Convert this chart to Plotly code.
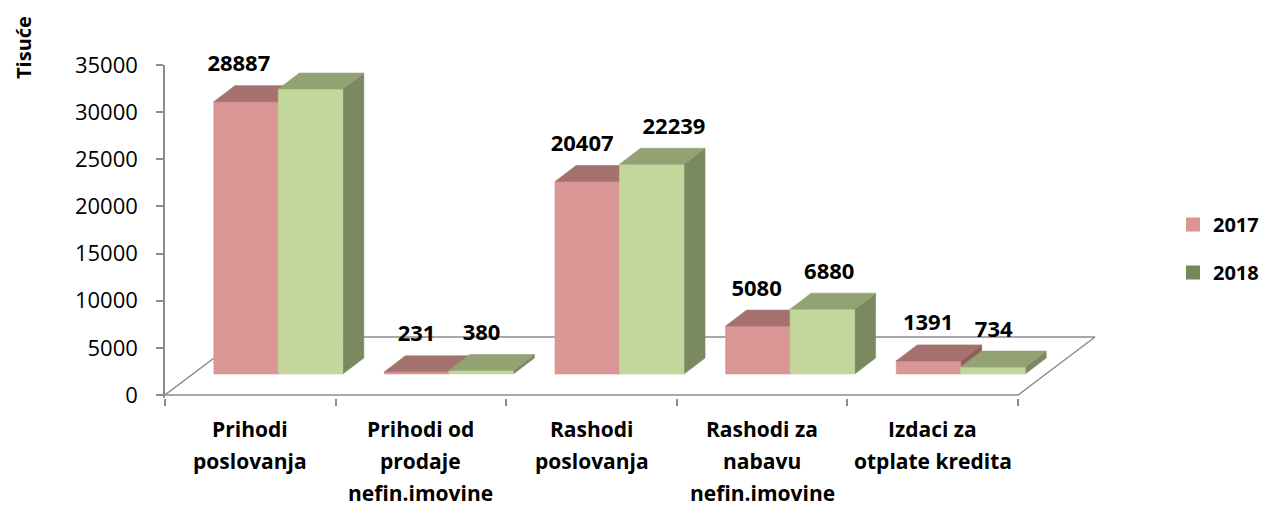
import plotly.graph_objects as go

# ---------------- data ----------------
categories = [
    "Prihodi<br>poslovanja",
    "Prihodi od<br>prodaje<br>nefin.imovine",
    "Rashodi<br>poslovanja",
    "Rashodi za<br>nabavu<br>nefin.imovine",
    "Izdaci za<br>otplate kredita",
]
series_names = ["2017", "2018"]
values_2017 = [28887, 231, 20407, 5080, 1391]
values_2018 = [30223, 380, 22239, 6880, 734]
y_tick_values = [0, 5000, 10000, 15000, 20000, 25000, 30000, 35000]
y_axis_title = "Tisuće"

# ---------------- styling / geometry ----------------
FONT = "'Open Sans', 'Liberation Sans', Arial, sans-serif"
PAGE_OFFSET = 8                      # default body margin of the html page
W, H = 1270 - PAGE_OFFSET, 506 - PAGE_OFFSET
PLOT_LEFT, PLOT_RIGHT, PLOT_TOP, PLOT_BOTTOM = 165, 1110, 65, 398   # in window pixels
ML = PLOT_LEFT - PAGE_OFFSET
MT = PLOT_TOP - PAGE_OFFSET
MR = W - (PLOT_RIGHT - PAGE_OFFSET)
MB = H - (PLOT_BOTTOM - PAGE_OFFSET)
PX_PER_CAT = 170.6
PX_PER_UNIT = 330 / 35000.0


def ux(p):
    return p / PX_PER_CAT


def uy(p):
    return p / PX_PER_UNIT


plot_w = PLOT_RIGHT - PLOT_LEFT
plot_h = PLOT_BOTTOM - PLOT_TOP
x_range = [-0.5, -0.5 + plot_w / PX_PER_CAT]
y_range = [35000 - plot_h / PX_PER_UNIT, 35000]


def paper_x(px):
    return (px - PLOT_LEFT) / plot_w


def paper_y(py):
    return (PLOT_BOTTOM - py) / plot_h


BAR_W = ux(64.5)
BASE_DX, BASE_DY = ux(28), uy(21)      # bars stand in the middle of the floor depth
TOP_DX, TOP_DY = ux(21), uy(16)        # depth of each bar
FLOOR_DX, FLOOR_DY = ux(77), uy(58)

colors = {
    "2017": dict(front="#D99694", top="#A5716F", side="#8F5E5C", legend="#D99694"),
    "2018": dict(front="#C3D69B", top="#93A273", side="#7B8961", legend="#77875A"),
}
AXIS_GRAY = "#8C8C8C"

fig = go.Figure()

# floor outline
n = len(categories)
fx0, fx1 = -0.5, n - 0.5
fig.add_trace(go.Scatter(
    x=[fx0 + FLOOR_DX, fx1 + FLOOR_DX, fx1, fx0],
    y=[FLOOR_DY, FLOOR_DY, 0, 0],
    mode="lines", line=dict(color=AXIS_GRAY, width=1.5),
    hoverinfo="skip", showlegend=False,
))
fig.add_trace(go.Scatter(
    x=[fx0, fx0 + FLOOR_DX], y=[0, FLOOR_DY],
    mode="lines", line=dict(color=AXIS_GRAY, width=1.5),
    hoverinfo="skip", showlegend=False,
))


def poly(xs, ys, color):
    fig.add_trace(go.Scatter(
        x=xs + [xs[0]], y=ys + [ys[0]], mode="lines", fill="toself",
        fillcolor=color, line=dict(color=color, width=0.6),
        hoverinfo="skip", showlegend=False,
    ))


label_x, label_y, label_t = [], [], []
series_values = [values_2017, values_2018]
for i in range(n):
    for s, name in enumerate(series_names):
        v = series_values[s][i]
        c = colors[name]
        L = i + BASE_DX + (s - 1) * BAR_W
        R = L + BAR_W
        B = BASE_DY
        T = BASE_DY + v
        # side face
        poly([R, R + TOP_DX, R + TOP_DX, R], [B, B + TOP_DY, T + TOP_DY, T], c["side"])
        # front face
        poly([L, R, R, L], [B, B, T, T], c["front"])
        # top face
        poly([L, R, R + TOP_DX, L + TOP_DX], [T, T, T + TOP_DY, T + TOP_DY], c["top"])
        # label (slight perspective spread)
        shift_px = (-0.00025 if s == 0 else 0.001) * v
        label_x.append((L + R) / 2 + ux(shift_px))
        label_y.append(T + TOP_DY + uy(20))
        label_t.append(str(v))

fig.add_trace(go.Scatter(
    x=label_x, y=label_y, text=label_t, mode="text",
    textposition="middle center",
    textfont=dict(family=FONT, size=22, color="#000000", weight="bold"),
    cliponaxis=False, hoverinfo="skip", showlegend=False,
))

# legend entries
for k, name in enumerate(series_names):
    fig.add_trace(go.Scatter(
        x=[None], y=[None], mode="markers", name=name,
        legendgroup=name,
        marker=dict(symbol="square", size=14, color=colors[name]["legend"]),
    ))

# category labels (one annotation per line)
annotations = []
for i, cat in enumerate(categories):
    for j, line in enumerate(cat.split("<br>")):
        annotations.append(dict(
            x=i, y=0, xref="x", yref="y", text=line, showarrow=False,
            xanchor="center", yanchor="middle", yshift=-(34 + 32 * j),
            font=dict(family=FONT, size=21, color="#000000", weight="bold"),
        ))
annotations.append(dict(
    x=paper_x(24), y=paper_y(48),
    xref="paper", yref="paper", text=y_axis_title, showarrow=False,
    textangle=-90, xanchor="center", yanchor="middle",
    font=dict(family=FONT, size=20, color="#000000", weight="bold"),
))

fig.update_layout(
    width=W, height=H,
    margin=dict(l=ML, r=MR, t=MT, b=MB, pad=0, autoexpand=False),
    paper_bgcolor="white", plot_bgcolor="white",
    font=dict(family=FONT, size=22, color="#000000"),
    annotations=annotations,
    showlegend=True,
    legend=dict(
        x=paper_x(1173), xanchor="left",
        y=paper_y(205), yanchor="top",
        font=dict(family=FONT, size=20, color="#000000", weight="bold"),
        tracegroupgap=19, traceorder="grouped",
        bgcolor="rgba(0,0,0,0)", itemwidth=30,
    ),
    xaxis=dict(
        range=x_range, showgrid=False, zeroline=False, showline=False,
        tickvals=list(range(n)), showticklabels=False, ticks="",
        minor=dict(tickvals=[k - 0.5 for k in range(n + 1)], ticks="outside",
                   ticklen=7, tickwidth=1.5, tickcolor=AXIS_GRAY, showgrid=False),
        fixedrange=True, automargin=False,
    ),
    yaxis=dict(
        range=y_range, showgrid=False, zeroline=False, showline=True,
        linecolor=AXIS_GRAY, linewidth=1.5,
        tickvals=y_tick_values, ticktext=[str(t) for t in y_tick_values],
        ticks="outside", ticklen=7, tickwidth=1.5, tickcolor=AXIS_GRAY,
        ticklabelstandoff=14,
        tickfont=dict(family=FONT, size=22, color="#000000"),
        fixedrange=True, automargin=False,
    ),
)

fig.write_html("out.html")
